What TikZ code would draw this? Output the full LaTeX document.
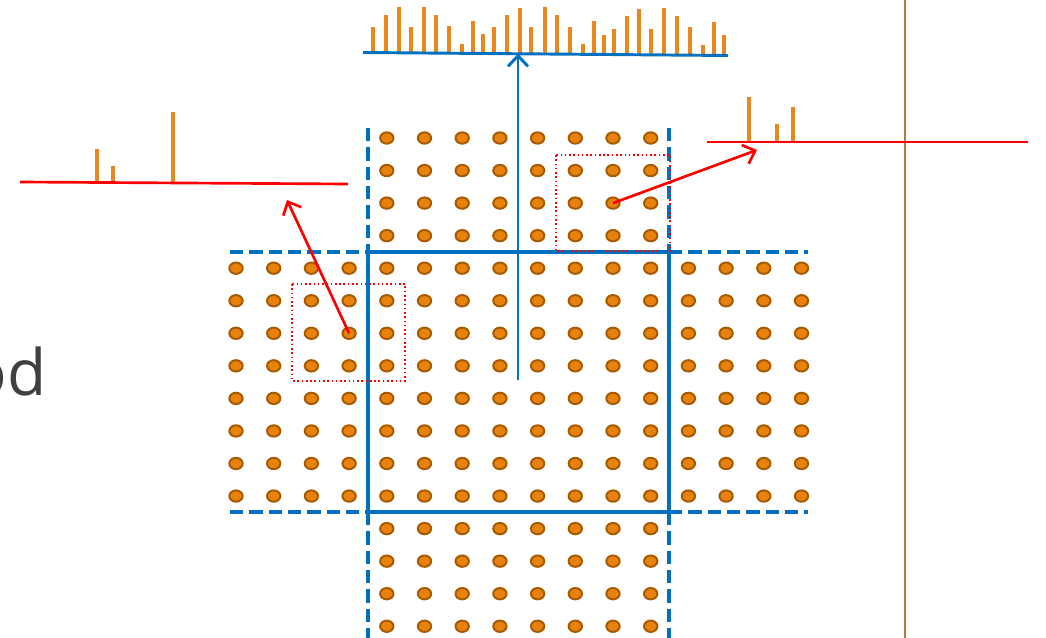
\documentclass[tikz,border=0pt]{standalone}
\usepackage{fontspec}
\setsansfont{Open Sans}
\usetikzlibrary{arrows.meta,shapes.geometric}
\definecolor{dotfill}{HTML}{E8820E}
\definecolor{dotrim}{HTML}{A85A00}
\definecolor{barorange}{HTML}{E8871E}
\definecolor{lineblue}{HTML}{0070C0}
\definecolor{axisbrown}{HTML}{B87A3A}
\begin{document}
\begin{tikzpicture}[x=0.75pt,y=-0.75pt,font=\sffamily,
  dot/.style={ellipse,draw=dotrim,fill=dotfill,line width=1.5pt,minimum width=10pt,minimum height=8.5pt,inner sep=0pt},
  bar/.style={draw=barorange,line width=3pt},
  tile/.style={draw=lineblue,line width=2.6pt},
  halo/.style={tile,dash pattern=on 10pt off 4.5pt},
  pick/.style={draw=red,line width=1.2pt,dotted},
  fetch/.style={draw=red,line width=2pt,-{Straight Barb[length=8pt,width=15pt]}}]
\useasboundingbox (0,0) rectangle (1046,638);
% axis on the right
\draw[axisbrown,line width=1.5pt] (905,0)--(905,638);
% title, cut at the left edge
\node[anchor=base east,inner sep=0pt,text=black!75,font=\sffamily\fontsize{48}{50}\selectfont] (title) at (47,395) {od};
% tile and its halo
\draw[tile] (368,252) rectangle (669,512);
\draw[halo] (230,252)--(368,252) (669,252)--(808,252);
\draw[halo] (230,512)--(368,512) (669,512)--(808,512);
\draw[halo] (368,128)--(368,252) (368,512)--(368,638);
\draw[halo] (669,128)--(669,252) (669,512)--(669,638);
% atoms
\foreach \n in {4,...,11} \foreach \m in {0,...,15}
  \node[dot] (d-\n-\m) at ({236+37.7*\n},{138+32.55*\m}) {};
\foreach \n in {0,...,3,12,13,14,15} \foreach \m in {4,...,11}
  \node[dot] (d-\n-\m) at ({236+37.7*\n},{138+32.55*\m}) {};
% picked windows
\draw[pick] (292,284) rectangle (405,381);
\draw[pick] (556,155) rectangle (670,251);
% spectra
\coordinate (topl) at (363,52.5);
\coordinate (topr) at (728,55.5);
\foreach \x/\t in {373/26.7,386/14.7,399/7.3,411/26.7,424/6.7,436/14.7,449/26,462/43.7,473/20.7,483/34,494/27.3,507/15.3,520/8.3,531/27.3,545/7.3,557/15.3,570/26.7,583/44.3,594/21.3,604/34.7,614/28.7,627/16,639/9,651/28.7,664/8.3,677/16,690/27.3,703/45.3,714/22.3,724/35.3}
  \draw[bar] (\x,{53+(\x-363)/122})--(\x,\t);
\draw[tile,line width=2.2pt] (topl)--(topr);
\coordinate (lspl) at (20,182);
\coordinate (lspr) at (348,184);
\foreach \x/\t in {97/149,113/166,173/112}
  \draw[bar] (\x,{182.3+(\x-20)/164})--(\x,\t);
\draw[red,line width=2pt] (lspl)--(lspr);
\coordinate (rspl) at (707,142);
\coordinate (rspr) at (1028,142);
\foreach \x/\t in {749/97,777/124,793/107}
  \draw[bar] (\x,142)--(\x,\t);
\draw[red,line width=2pt] (rspl)--(rspr);
% arrows
\coordinate (src) at (518,380);
\coordinate (peak) at (518,53.6);
\draw[tile,line width=2.2pt,-{Straight Barb[length=8pt,width=15pt]}] (src)--(peak);
\coordinate (ltip) at (287,200);
\coordinate (rtip) at (757,150);
\draw[fetch] (d-3-6.center)--(ltip);
\draw[fetch] (d-10-2.center)--(rtip);
\end{tikzpicture}
\end{document}
